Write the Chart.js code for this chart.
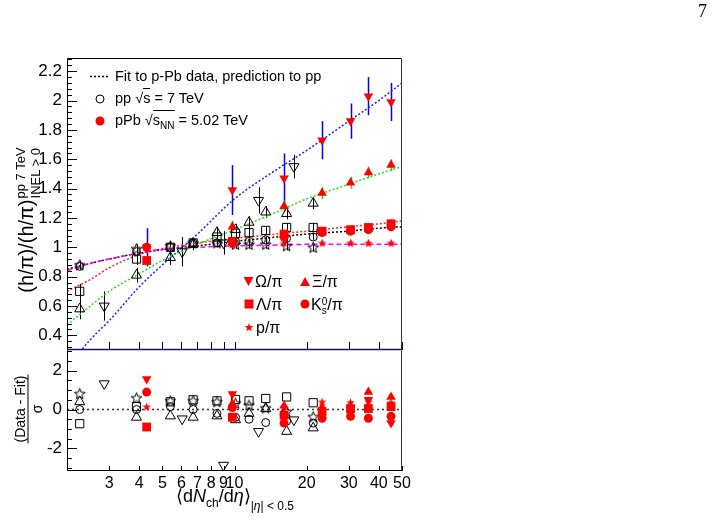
<!DOCTYPE html>
<html><head><meta charset="utf-8">
<script src="https://cdn.jsdelivr.net/npm/chart.js@4.4.1/dist/chart.umd.min.js"></script>
<style>
html,body{margin:0;padding:0;background:#fff;}
#wrap{position:relative;width:721px;height:520px;overflow:hidden;font-family:"Liberation Sans",Arial,Helvetica,sans-serif;color:#000;}
#wrap canvas{position:absolute;left:0;top:0;}
.t{position:absolute;white-space:nowrap;line-height:1;}
.leg{font-size:14.5px;}
.leg2{font-size:16px;}
.ov{border-top:1px solid #000;padding-top:1px;}
</style></head><body>
<div id="wrap">
<canvas id="cTop" width="721" height="520"></canvas>
<canvas id="cBot" width="721" height="520"></canvas>
<svg id="legsvg" width="721" height="520" style="position:absolute;left:0;top:0"></svg>

<div class="t leg" style="left:115px;top:69px">Fit to p-Pb data, prediction to pp</div>
<div class="t leg" style="left:115px;top:91px">pp &#8730;<span class="ov">s</span> = 7 TeV</div>
<div class="t leg" style="left:115px;top:113px">pPb &#8730;<span class="ov">s<sub style="font-size:10px">NN</sub></span> = 5.02 TeV</div>

<div class="t leg2" style="left:255px;top:274px">&Omega;/&pi;</div>
<div class="t leg2" style="left:312px;top:274px">&Xi;/&pi;</div>
<div class="t leg2" style="left:256px;top:297px">&Lambda;/&pi;</div>
<div class="t leg2" style="left:311px;top:297px">K<span style="display:inline-block;vertical-align:-4px;font-size:10px;line-height:9px;text-align:left">0<br>s</span>/&pi;</div>
<div class="t leg2" style="left:256px;top:320px">p/&pi;</div>

<div class="t" style="left:28px;top:220px;font-size:20px;transform:translate(-50%,-50%) rotate(-90deg);">(h/&pi;)/(h/&pi;)<span style="display:inline-block;vertical-align:middle;font-size:13px;line-height:15px;text-align:left;margin-left:1px">pp 7 TeV<br>INEL &gt; 0</span></div>

<div class="t" style="left:28px;top:409px;font-size:14px;transform:translate(-50%,-50%) rotate(-90deg);"><div style="display:flex;flex-direction:column;align-items:center"><div style="border-bottom:1px solid #000;padding:0 1px 1px 1px">(Data - Fit)</div><div style="padding-top:1px">&sigma;</div></div></div>

<div class="t" style="left:176px;top:487px;font-size:18px">&#10216;d<i>N</i><sub style="font-size:12px">ch</sub>/d<i>&eta;</i>&#10217;<sub style="font-size:12px;position:relative;top:3px">|<i>&eta;</i>| &lt; 0.5</sub></div>

<div class="t" style="left:698px;top:2px;font-size:18px;font-family:'Liberation Serif','Times New Roman',serif">7</div>
</div>

<script>
// ---------------- data ----------------
const xTickLabels = [3, 4, 5, 6, 7, 8, 9, 10, 20, 30, 40, 50];
const xTickMarks  = [2, 3, 4, 5, 6, 7, 8, 9, 10, 20, 30, 40, 50];
const yTicksTop   = [0.4, 0.6, 0.8, 1.0, 1.2, 1.4, 1.6, 1.8, 2.0, 2.2];
const yTicksBot   = [-2, 0, 2];

// pp 7 TeV multiplicity classes
const ppX        = [2.26, 3.90, 5.40, 6.72, 8.45, 10.1, 11.5, 13.5, 16.5, 21.3];
const ppLambda   = [0.70, 0.92, 1.00, 1.03, 1.07, 1.095, 1.10, 1.115, 1.135, 1.135];
const ppLambdaE  = [0.05, 0.04, 0.03, 0.03, 0.03, 0.03, 0.03, 0.03, 0.03, 0.03];
const ppXi       = [0.58, 0.81, 0.93, 1.02, 1.10, 1.12, 1.17, 1.24, 1.23, 1.30];
const ppXiE      = [0.07, 0.05, 0.05, 0.04, 0.04, 0.04, 0.04, 0.04, 0.04, 0.04];
const ppK0s      = [0.87, 0.97, 1.00, 1.03, 1.03, 1.04, 1.04, 1.05, 1.06, 1.07];
const ppK0sE     = [0.02, 0.02, 0.02, 0.02, 0.02, 0.02, 0.02, 0.02, 0.02, 0.02];
const ppProton   = [0.88, 0.99, 1.01, 1.03, 1.03, 1.02, 1.02, 1.02, 1.01, 1.00];
const ppProtonE  = [0.03, 0.03, 0.03, 0.03, 0.03, 0.03, 0.03, 0.03, 0.03, 0.03];
const ppOmegaX   = [2.86, 6.05, 9.0, 12.6, 17.7];
const ppOmega    = [0.60, 0.97, 1.03, 1.32, 1.55];
const ppOmegaE   = [0.10, 0.10, 0.08, 0.09, 0.08];

// p-Pb 5.02 TeV multiplicity classes
const pPbX       = [4.3, 9.8, 16.1, 23.2, 30.5, 36.2, 45.0];
const pPbOmega   = [1.00, 1.39, 1.47, 1.73, 1.86, 2.03, 1.99];
const pPbOmegaE  = [0.13, 0.17, 0.17, 0.13, 0.12, 0.13, 0.13];
const pPbXi      = [null, 1.14, 1.28, 1.37, 1.44, 1.51, 1.56];
const pPbXiE     = [null, 0.04, 0.04, 0.04, 0.04, 0.04, 0.04];
const pPbLambda  = [0.91, 1.04, 1.09, 1.11, 1.12, 1.135, 1.16];
const pPbLambdaE = [0.03, 0.03, 0.03, 0.03, 0.03, 0.03, 0.03];
const pPbK0s     = [1.00, 1.03, 1.07, 1.10, 1.11, 1.12, 1.14];
const pPbProton  = [1.00, 1.02, 1.03, 1.03, 1.03, 1.03, 1.03];
const pPbProtonE = [0.02, 0.02, 0.02, 0.02, 0.02, 0.02, 0.02];

// fits to p-Pb data
const fitX       = [2, 2.5, 3, 4, 5, 7, 10, 15, 20, 30, 40, 50];
const fitOmega   = [0.18, 0.37, 0.50, 0.73, 0.88, 1.09, 1.33, 1.53, 1.66, 1.86, 2.00, 2.12];
const fitXi      = [0.47, 0.60, 0.70, 0.82, 0.91, 1.02, 1.12, 1.24, 1.33, 1.43, 1.50, 1.55];
const fitLambda  = [0.70, 0.78, 0.86, 0.95, 0.99, 1.03, 1.06, 1.09, 1.11, 1.14, 1.16, 1.18];
const fitK0s     = [0.85, 0.89, 0.92, 0.96, 0.985, 1.01, 1.04, 1.07, 1.09, 1.11, 1.13, 1.14];
const fitProton  = [0.84, 0.89, 0.92, 0.96, 0.985, 1.00, 1.01, 1.015, 1.02, 1.02, 1.02, 1.02];

// residuals (Data - Fit)/sigma
const resPPLambda  = [-0.73, 0.15, 0.40, 0.50, 0.45, 0.52, 0.45, 0.57, 0.65, 0.35];
const resPPXi      = [0.40, -0.40, -0.33, -0.40, -0.33, -0.53, -0.20, 0.05, -1.13, -0.95];
const resPPK0s     = [0.00, 0.00, 0.15, 0.00, -0.20, -0.40, -0.50, -0.67, -0.60, -0.70];
const resPPProton  = [0.82, 0.60, 0.45, 0.45, 0.40, 0.33, 0.23, 0.08, -0.10, -0.37];
const resPPOmega   = [1.33, -0.48, -2.87, -1.13, -0.53];
const resPPbOmega  = [1.58, 0.80, -0.40, -0.10, 0.00, 0.50, -0.70];
const resPPbXi     = [null, 0.30, 0.20, 0.10, 0.00, 0.90, 0.65];
const resPPbLambda = [-0.90, -0.40, -0.30, -0.10, 0.05, 0.05, 0.15];
const resPPbK0s    = [0.90, 0.10, -0.70, -0.45, -0.35, -0.45, -0.35];
const resPPbProton = [0.15, 0.20, 0.10, 0.40, 0.37, 0.40, 0.37];
const zeroLineX    = [2, 50];
const zeroLineY    = [0, 0];

// ---------------- helpers ----------------
const FONT = '"Liberation Sans", Arial, Helvetica, sans-serif';
Chart.defaults.font.family = FONT;
Chart.defaults.color = '#000';
const AXW = 60;   // reserved width of y axis label box
const AXH = 30;   // reserved height of x axis label box

function pts(xs, ys, es) {
  const out = [];
  xs.forEach((x, i) => { if (ys[i] != null) out.push({x: x, y: ys[i], e: es ? es[i] : 0}); });
  return out;
}
function starImg(size, fill, stroke) {
  const c = document.createElement('canvas'); c.width = c.height = size;
  const g = c.getContext('2d'); const cx = size / 2, cy = size / 2 + 0.5;
  const R = size / 2 - 0.8, r = R * 0.42;
  g.beginPath();
  for (let i = 0; i < 10; i++) {
    const a = -Math.PI / 2 + i * Math.PI / 5, rr = (i % 2) ? r : R;
    g.lineTo(cx + rr * Math.cos(a), cy + rr * Math.sin(a));
  }
  g.closePath();
  if (fill) { g.fillStyle = fill; g.fill(); }
  if (stroke) { g.strokeStyle = stroke; g.lineWidth = 1; g.stroke(); }
  return c;
}
const redStar = starImg(11, '#ff0000', null);
const openStar = starImg(13, null, '#000');

const RED = '#ff0000', CLEAR = 'rgba(0,0,0,0)';
function markers(data, style, color, open, radius, rot, errColor, errWidth) {
  return { data: data, showLine: false, pointStyle: style, pointRadius: radius, pointRotation: rot || 0,
    pointBackgroundColor: open ? CLEAR : color, pointBorderColor: color, pointBorderWidth: open ? 1 : 0,
    errColor: errColor, errWidth: errWidth || 1 };
}
function fitLine(ys, color, dash) {
  return { data: pts(fitX, ys), showLine: true, pointRadius: 0, borderColor: color, borderWidth: 1.5,
    borderDash: dash, cubicInterpolationMode: 'monotone', fill: false };
}

const panelPlugin = {
  id: 'panel',
  beforeDatasetsDraw(chart) {
    const ctx = chart.ctx, a = chart.chartArea, xs = chart.scales.x, ys = chart.scales.y;
    ctx.save(); ctx.beginPath(); ctx.rect(a.left, a.top, a.right - a.left, a.bottom - a.top); ctx.clip();
    chart.data.datasets.forEach(ds => {
      if (!ds.errColor) return;
      ctx.strokeStyle = ds.errColor; ctx.lineWidth = ds.errWidth;
      ds.data.forEach(p => {
        if (!p.e) return;
        const px = Math.round(xs.getPixelForValue(p.x)) + 0.5;
        ctx.beginPath(); ctx.moveTo(px, ys.getPixelForValue(p.y - p.e)); ctx.lineTo(px, ys.getPixelForValue(p.y + p.e)); ctx.stroke();
      });
    });
    ctx.restore();
  },
  afterDraw(chart, args, o) {
    const ctx = chart.ctx, a = chart.chartArea, xs = chart.scales.x, ys = chart.scales.y;
    ctx.save(); ctx.lineWidth = 1; ctx.strokeStyle = '#000';
    ctx.beginPath();
    xTickMarks.forEach(v => { const px = Math.round(xs.getPixelForValue(v)) + 0.5; ctx.moveTo(px, a.bottom); ctx.lineTo(px, a.bottom - o.xLen); });
    for (let v = o.yMinorStart; v <= ys.max + 1e-9; v += o.yMinorStep) {
      const py = Math.round(ys.getPixelForValue(v)) + 0.5; ctx.moveTo(a.left, py); ctx.lineTo(a.left + o.yMinorLen, py);
    }
    o.yMajor.forEach(v => { const py = Math.round(ys.getPixelForValue(v)) + 0.5; ctx.moveTo(a.left, py); ctx.lineTo(a.left + o.yLen, py); });
    ctx.stroke();
    const L = Math.round(a.left) + 0.5, R = Math.round(a.right) - 0.5, T = Math.round(a.top) + 0.5, B = Math.round(a.bottom) - 0.5;
    const side = (x1, y1, x2, y2, c, w) => { ctx.beginPath(); ctx.strokeStyle = c; ctx.lineWidth = w; ctx.moveTo(x1, y1); ctx.lineTo(x2, y2); ctx.stroke(); };
    if (o.top) side(L, T, R, T, o.top, 1);
    side(L, T, L, B, '#000', 1);
    side(R, T, R, B, '#333', 1);
    side(L - 0.5, B, R + 0.5, B, o.bottom, o.bottomW || 1);
    ctx.restore();
  }
};

function xScale(showLabels) {
  return { type: 'logarithmic', min: 2, max: 50,
    afterFit(s) { s.height = showLabels ? AXH : 0; },
    afterBuildTicks(s) { s.ticks = xTickLabels.map(v => ({value: v})); },
    ticks: { display: showLabels, autoSkip: false, maxRotation: 0, minRotation: 0, padding: 3,
      font: {size: 16, family: FONT}, color: '#000', callback: v => String(v) },
    grid: { display: false, drawTicks: false }, border: { display: false } };
}
function yScale(min, max, ticks, fmt) {
  return { type: 'linear', min: min, max: max,
    afterFit(s) { s.width = AXW; },
    afterBuildTicks(s) { s.ticks = ticks.map(v => ({value: v})); },
    ticks: { padding: 5, font: {size: 17, family: FONT}, color: '#000', callback: fmt },
    grid: { display: false, drawTicks: false }, border: { display: false } };
}

// ---------------- top panel ----------------
new Chart(document.getElementById('cTop'), {
  type: 'scatter',
  data: { datasets: [
    markers(pts(pPbX, pPbOmega, pPbOmegaE), 'triangle', RED, false, 5.5, 180, '#0000ff', 1.5),
    markers(pts(pPbX, pPbXi, pPbXiE), 'triangle', RED, false, 5.5, 0, '#00dd00', 1.5),
    markers(pts(pPbX, pPbLambda, pPbLambdaE), 'rect', RED, false, 6.2, 0, RED, 1.5),
    markers(pts(pPbX, pPbK0s), 'circle', RED, false, 4.5, 0),
    markers(pts(pPbX, pPbProton, pPbProtonE), redStar, RED, false, 5, 0, '#ff66ff', 1.5),
    markers(pts(ppOmegaX, ppOmega, ppOmegaE), 'triangle', '#000', true, 5.8, 180, '#000', 1),
    markers(pts(ppX, ppXi, ppXiE), 'triangle', '#000', true, 5.8, 0, '#000', 1),
    markers(pts(ppX, ppLambda, ppLambdaE), 'rect', '#000', true, 5.8, 0, '#000', 1),
    markers(pts(ppX, ppK0s, ppK0sE), 'circle', '#000', true, 4, 0, '#000', 1),
    markers(pts(ppX, ppProton, ppProtonE), openStar, '#000', true, 6, 0, '#000', 1),
    fitLine(fitProton, '#ff00ff', [5, 3]),
    fitLine(fitK0s, '#000000', [2, 2]),
    fitLine(fitLambda, '#ff2020', [2, 2]),
    fitLine(fitXi, '#20e020', [2, 2]),
    fitLine(fitOmega, '#2020ff', [2, 2])
  ]},
  options: {
    responsive: false, animation: false, devicePixelRatio: 1,
    layout: { padding: { left: 67 - AXW, right: 721 - 402, top: 58, bottom: 520 - 350 } },
    plugins: { legend: { display: false }, tooltip: { enabled: false },
      panel: { xLen: 8, yLen: 10, yMinorLen: 5, yMinorStart: 0.32, yMinorStep: 0.04, yMajor: yTicksTop, top: '#000', bottom: '#14145a', bottomW: 1.5 } },
    scales: { x: xScale(false), y: yScale(0.3, 2.29, yTicksTop, v => String(Math.round(v * 10) / 10)) }
  },
  plugins: [panelPlugin]
});

// ---------------- bottom panel ----------------
new Chart(document.getElementById('cBot'), {
  type: 'scatter',
  data: { datasets: [
    markers(pts(pPbX, resPPbOmega), 'triangle', RED, false, 5.5, 180),
    markers(pts(pPbX, resPPbXi), 'triangle', RED, false, 5.5, 0),
    markers(pts(pPbX, resPPbLambda), 'rect', RED, false, 6.2, 0),
    markers(pts(pPbX, resPPbK0s), 'circle', RED, false, 4.5, 0),
    markers(pts(pPbX, resPPbProton), redStar, RED, false, 5, 0),
    markers(pts(ppOmegaX, resPPOmega), 'triangle', '#000', true, 5.8, 180),
    markers(pts(ppX, resPPXi), 'triangle', '#000', true, 5.8, 0),
    markers(pts(ppX, resPPLambda), 'rect', '#000', true, 5.8, 0),
    markers(pts(ppX, resPPK0s), 'circle', '#000', true, 4, 0),
    markers(pts(ppX, resPPProton), openStar, '#000', true, 6, 0),
    { data: pts(zeroLineX, zeroLineY), showLine: true, pointRadius: 0, borderColor: '#333', borderWidth: 1.5, borderDash: [2, 3] }
  ]},
  options: {
    responsive: false, animation: false, devicePixelRatio: 1,
    layout: { padding: { left: 67 - AXW, right: 721 - 402, top: 350, bottom: 520 - 471 - AXH } },
    plugins: { legend: { display: false }, tooltip: { enabled: false },
      panel: { xLen: 5, yLen: 10, yMinorLen: 5, yMinorStart: -3, yMinorStep: 0.5, yMajor: yTicksBot, top: null, bottom: '#000' } },
    scales: { x: xScale(true), y: yScale(-3.17, 3.07, yTicksBot, v => String(v)) }
  },
  plugins: [panelPlugin]
});

// ---------------- legend symbols ----------------
(function () {
  const svg = document.getElementById('legsvg');
  const NS = 'http://www.w3.org/2000/svg';
  function el(tag, attrs) { const e = document.createElementNS(NS, tag); for (const k in attrs) e.setAttribute(k, attrs[k]); svg.appendChild(e); }
  el('line', {x1: 90, y1: 76.5, x2: 108, y2: 76.5, stroke: '#000', 'stroke-width': 1.5, 'stroke-dasharray': '2,2'});
  el('circle', {cx: 100, cy: 99, r: 4, fill: 'none', stroke: '#000', 'stroke-width': 1});
  el('circle', {cx: 100, cy: 121, r: 4.5, fill: RED});
  el('polygon', {points: '243.5,277 253.5,277 248.5,286', fill: RED});
  el('polygon', {points: '300,286 310,286 305,277', fill: RED});
  el('rect', {x: 244.5, y: 299.5, width: 9, height: 9, fill: RED});
  el('circle', {cx: 305, cy: 304, r: 4.5, fill: RED});
  let p = '';
  for (let i = 0; i < 10; i++) { const a = -Math.PI / 2 + i * Math.PI / 5, rr = (i % 2) ? 1.9 : 4.6; p += (249 + rr * Math.cos(a)).toFixed(2) + ',' + (327.5 + rr * Math.sin(a)).toFixed(2) + ' '; }
  el('polygon', {points: p, fill: RED});
})();
</script>
</body></html>
